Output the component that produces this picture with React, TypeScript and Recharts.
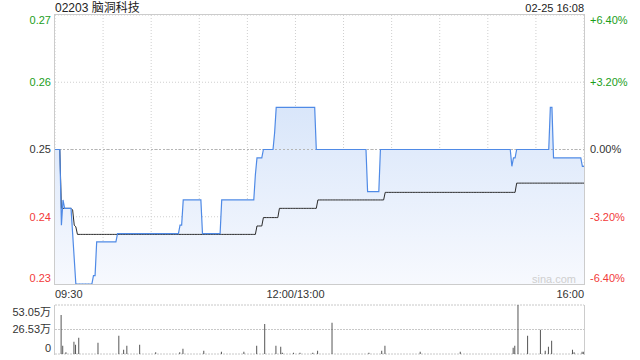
import React from 'react';
import {
  ComposedChart,
  Area,
  Line,
  Bar,
  XAxis,
  YAxis,
  CartesianGrid,
  ReferenceLine,
} from 'recharts';

// ---------- data ----------
const stockTitle = '02203 脑洞科技';
const stampLabel = '02-25 16:08';
const watermark = 'sina.com';
const prevClose = 0.25;
const lastMinute = 330;

const priceTicks = [0.234, 0.242, 0.25, 0.258, 0.266];
const timeTicks = [0, 30, 60, 90, 120, 150, 180, 210, 240, 270, 300, 330];
const timeLabels: Record<number, string> = { 0: '09:30', 150: '12:00/13:00', 330: '16:00' };
const volTicks = [0, 26.53, 53.05];
const volLabels = ['0', '26.53万', '53.05万'];

// price changes: [minute index, new price] (price held until next change)
const priceChanges: [number, number][] = [
  [0, 0.25], [4, 0.241], [5, 0.244], [6, 0.243], [11, 0.24], [12, 0.237], [13, 0.234],
  [24, 0.235], [26, 0.239], [39, 0.24], [78, 0.241], [80, 0.244], [92, 0.24], [104, 0.244],
  [125, 0.247], [126, 0.249], [130, 0.25], [137, 0.252], [138, 0.255], [163, 0.25],
  [195, 0.245], [203, 0.25], [285, 0.248], [286, 0.249], [288, 0.25], [309, 0.255],
  [311, 0.249], [329, 0.248],
];

// average price changes: [minute index, new average]
const avgChanges: [number, number][] = [
  [0, 0.25], [4, 0.243], [11, 0.2428], [12, 0.241], [13, 0.2408], [14, 0.2399],
  [126, 0.2409], [130, 0.2419], [140, 0.243], [164, 0.244], [206, 0.2449], [288, 0.246],
];

// volume (万): [minute index, volume]
const volumeBars: [number, number][] = [
  [4, 42.3], [5, 9.0], [7, 1.8], [12, 13.3], [13, 10.0], [15, 17.6], [27, 12.2], [40, 19.7],
  [43, 4.7], [45, 9.0], [53, 10.0], [63, 1.8], [78, 1.8], [80, 5.7], [93, 3.6], [104, 2.5],
  [118, 2.5], [126, 9.0], [131, 32.6], [138, 9.0], [141, 7.9], [142, 1.4], [149, 1.4],
  [153, 1.4], [161, 1.4], [164, 3.6], [173, 33.7], [196, 1.4], [204, 3.6], [206, 9.0],
  [228, 2.5], [253, 2.5], [286, 6.8], [287, 9.0], [289, 53.05], [295, 19.7], [303, 26.2],
  [306, 3.6], [308, 7.9], [310, 14.3], [323, 4.7], [324, 1.8], [329, 2.5], [330, 2.5],
];

// ---------- table built from the arrays ----------
function heldValue(changes: [number, number][], t: number): number {
  let v = changes[0][1];
  for (const [m, val] of changes) {
    if (m <= t) v = val;
  }
  return v;
}
const volMap = new Map<number, number>(volumeBars);
const rows = Array.from({ length: lastMinute + 1 }, (_, t) => ({
  t,
  price: heldValue(priceChanges, t),
  avg: heldValue(avgChanges, t),
  vol: volMap.get(t) ?? 0,
}));

// ---------- styles ----------
const FONT = '"Liberation Sans", Arial, "Noto Sans CJK SC", sans-serif';
const GREEN = '#1b9e1b';
const RED = '#f23a3a';
const DARK = '#333';
const BLUE = '#4f8ae6';

function priceColor(v: number) {
  if (Math.abs(v - prevClose) < 1e-9) return DARK;
  return v > prevClose ? GREEN : RED;
}
function edgeShift(index: number, count: number, down: number, up: number) {
  if (index === count - 1) return down;
  if (index === 0) return up;
  return 0;
}

const LeftPriceTick = (props: any) => {
  const { x, y, payload, index } = props;
  const v = payload.value as number;
  const dy = edgeShift(index, priceTicks.length, 5, -6);
  return (
    <text x={x - 4} y={y + dy} dy="0.36em" textAnchor="end" fontSize={11} fontFamily={FONT} fill={priceColor(v)}>
      {v.toFixed(2)}
    </text>
  );
};

const RightPriceTick = (props: any) => {
  const { x, y, payload, index } = props;
  const v = payload.value as number;
  const pct = ((v - prevClose) / prevClose) * 100;
  const s = (pct > 0.0001 ? '+' : '') + pct.toFixed(2) + '%';
  const dy = edgeShift(index, priceTicks.length, 5, -6);
  return (
    <text x={x + 6} y={y + dy} dy="0.36em" textAnchor="start" fontSize={11} fontFamily={FONT} fill={priceColor(v)}>
      {Math.abs(pct) < 0.0001 ? '0.00%' : s}
    </text>
  );
};

const TimeTick = (props: any) => {
  const { x, y, payload } = props;
  const label = timeLabels[payload.value as number];
  if (!label) return null;
  const anchor = payload.value === 0 ? 'start' : payload.value === lastMinute ? 'end' : 'middle';
  return (
    <text x={x} y={y + 10} dy="0.36em" textAnchor={anchor} fontSize={11} fontFamily={FONT} fill={DARK}>
      {label}
    </text>
  );
};

const VolTick = (props: any) => {
  const { x, y, index } = props;
  const dy = edgeShift(index, volTicks.length, 7, -6);
  return (
    <text x={x - 4} y={y + dy} dy="0.36em" textAnchor="end" fontSize={11} fontFamily={FONT} fill={DARK}>
      {volLabels[index]}
    </text>
  );
};

export default function App() {
  return (
    <div
      style={{
        position: 'absolute',
        left: 0,
        top: 0,
        width: 640,
        height: 360,
        background: '#fff',
        overflow: 'hidden',
        fontFamily: FONT,
      }}
    >
      <div style={{ position: 'absolute', left: 55, top: 1, fontSize: 12, lineHeight: '14px', color: '#222', whiteSpace: 'nowrap' }}>
        {stockTitle}
      </div>
      <div style={{ position: 'absolute', right: 56, top: 1, fontSize: 11, lineHeight: '14px', color: '#222', whiteSpace: 'nowrap' }}>
        {stampLabel}
      </div>

      {/* price panel */}
      <div style={{ position: 'absolute', left: 0, top: 0 }}>
        <ComposedChart width={640} height={300} data={rows} margin={{ top: 15, right: 0, bottom: 0, left: 0 }}>
          <defs>
            <linearGradient id="pfill" x1="0" y1="0" x2="0" y2="1">
              <stop offset="0%" stopColor="#d9e6fa" />
              <stop offset="100%" stopColor="#f7f9fe" />
            </linearGradient>
          </defs>
          <CartesianGrid stroke="#cfcfcf" strokeDasharray="1 2" />
          <XAxis
            type="number"
            dataKey="t"
            domain={[0, lastMinute]}
            ticks={timeTicks}
            interval={0}
            height={16}
            tickLine={false}
            axisLine={false}
            tickSize={0}
            tickMargin={0}
            tick={<TimeTick />}
          />
          <YAxis
            type="number"
            domain={[priceTicks[0], priceTicks[priceTicks.length - 1]]}
            ticks={priceTicks}
            interval={0}
            width={55}
            tickLine={false}
            axisLine={false}
            tickSize={0}
            tickMargin={0}
            tick={<LeftPriceTick />}
            allowDataOverflow
          />
          <YAxis
            yAxisId="r"
            orientation="right"
            type="number"
            domain={[priceTicks[0], priceTicks[priceTicks.length - 1]]}
            ticks={priceTicks}
            interval={0}
            width={56}
            tickLine={false}
            axisLine={false}
            tickSize={0}
            tickMargin={0}
            tick={<RightPriceTick />}
            allowDataOverflow
          />
          <ReferenceLine y={prevClose} stroke="#b5b5b5" strokeDasharray="2 2" />
          <Area
            type="linear"
            dataKey="price"
            stroke="none"
            fill="url(#pfill)"
            fillOpacity={1}
            isAnimationActive={false}
            dot={false}
            activeDot={false}
          />
          <Line type="linear" dataKey="avg" stroke="#2b2b2b" strokeWidth={1} dot={false} activeDot={false} isAnimationActive={false} />
          <Line type="linear" dataKey="price" stroke={BLUE} strokeWidth={1.2} dot={false} activeDot={false} isAnimationActive={false} />
        </ComposedChart>
      </div>
      <div style={{ position: 'absolute', left: 54, top: 14, width: 531, height: 271, border: '1px solid #cccccc', boxSizing: 'border-box' }} />
      <div style={{ position: 'absolute', left: 532, top: 272, fontSize: 11, lineHeight: '14px', color: '#cfcfcf' }}>{watermark}</div>

      {/* volume panel */}
      <div style={{ position: 'absolute', left: 0, top: 0 }}>
        <ComposedChart width={640} height={360} data={rows} margin={{ top: 305, right: 56, bottom: 6, left: 0 }}>
          <CartesianGrid stroke="#c8c8c8" strokeDasharray="2 1" vertical={false} />
          <XAxis type="number" dataKey="t" domain={[0, lastMinute]} hide />
          <YAxis
            type="number"
            domain={[0, volTicks[volTicks.length - 1]]}
            ticks={volTicks}
            interval={0}
            width={55}
            tickLine={false}
            axisLine={false}
            tickSize={0}
            tickMargin={0}
            tick={<VolTick />}
          />
          <Bar dataKey="vol" fill="#555" barSize={1} isAnimationActive={false} />
        </ComposedChart>
      </div>
      <div style={{ position: 'absolute', left: 54, top: 305, width: 1, height: 50, background: '#cccccc' }} />
      <div style={{ position: 'absolute', left: 584, top: 305, width: 1, height: 50, background: '#cccccc' }} />
    </div>
  );
}
